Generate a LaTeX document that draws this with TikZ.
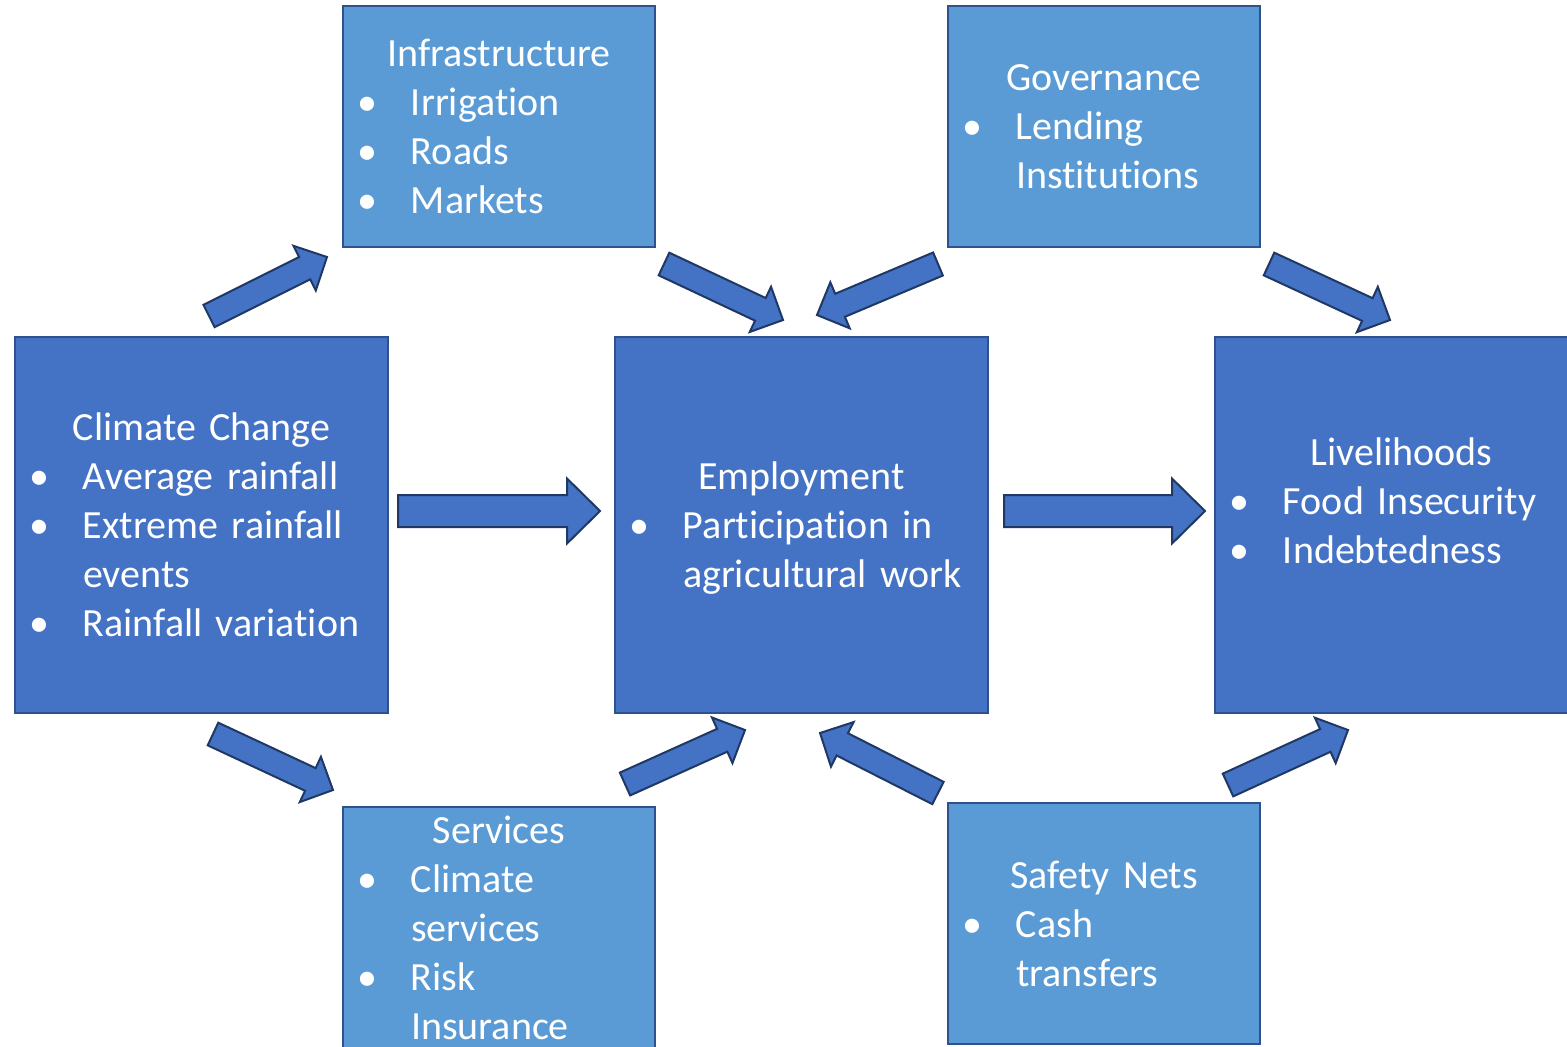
\documentclass[tikz,border=0pt]{standalone}
\usepackage{fontspec}
\setmainfont{Carlito}[Ligatures=NoCommon]
\usepackage{tikz}
\usetikzlibrary{positioning,calc}

\definecolor{boxdark}{HTML}{4472C4}
\definecolor{boxlight}{HTML}{5B9BD5}
\definecolor{boxline}{HTML}{2F528F}
\definecolor{arrline}{HTML}{1F3864}

\newcommand{\itm}{\makebox[24pt]{\textbullet}\hspace{10pt}}
\newcommand{\cont}{\hspace*{34pt}}
\newcommand{\ttl}[1]{\makebox[\hsize]{#1}}
\newcommand{\nodp}[1]{\raisebox{0pt}[\height][0pt]{#1}}

\newcommand{\barrow}[5]{%
	\path ($(#2)!#5!(#1)$) coordinate (hb);
	\draw[arrowshape] ($(#1)!#3!90:(#2)$) -- ($(hb)!#3!90:(#2)$) -- ($(hb)!#4!90:(#2)$) -- (#2)
		-- ($(hb)!#4!-90:(#2)$) -- ($(hb)!#3!-90:(#2)$) -- ($(#1)!#3!-90:(#2)$) -- cycle;}

\begin{document}
\begin{tikzpicture}[x=0.5pt,y=-0.5pt,
						bigbox/.style = {draw=boxline, line width=1pt, fill=boxdark, text=white,
							minimum height=188pt, text width=186.5pt, inner xsep=0pt, align=left,
							font=\fontsize{20pt}{24.5pt}\selectfont},
						smallbox/.style = {bigbox, fill=boxlight, minimum height=120.5pt, text width=156pt},
						arrowshape/.style = {fill=boxdark, draw=arrline, line width=1pt, line join=miter}]

					\useasboundingbox (0,0) rectangle (1567,1046);

					\node[bigbox] (clim) at (201.5,525) {\ttl{Climate Change}\\ \itm Average rainfall\\ \itm Extreme rainfall\\ \cont events\\ \itm Rainfall variation};
					\node[bigbox,right=112.5pt of clim] (empl) {\ttl{Employment}\\ \itm Participation in\\ \cont\nodp{agricultural work}};
					\node[bigbox,right=112.5pt of empl] (live) {\ttl{Livelihoods}\\ \itm Food Insecurity\\ \itm Indebtedness\\ ~};

					\node[smallbox] (infra) at (499,126.5) {\ttl{Infrastructure}\\ \itm Irrigation\\ \itm Roads\\ \itm Markets};
					\node[smallbox] (gov) at (1104,126.5) {\ttl{Governance}\\ \itm Lending\\ \cont Institutions};
					\node[smallbox] (serv) at (499,927.5) {\ttl{Services}\\ \itm Climate\\ \cont services\\ \itm Risk\\ \cont Insurance};
					\node[smallbox] (safe) at (1104,923.5) {\ttl{Safety Nets}\\ \itm Cash\\ \cont transfers};

					\coordinate (ci-s) at (209,316);  \coordinate (ci-t) at (327,257);
					\coordinate (ie-s) at (664,264);  \coordinate (ie-t) at (783,320);
					\coordinate (ge-s) at (938,264);  \coordinate (ge-t) at (817,315);
					\coordinate (gl-s) at (1269,264); \coordinate (gl-t) at (1390,320);
					\coordinate (cs-s) at (213,734);  \coordinate (cs-t) at (333,790);
					\coordinate (se-s) at (625,784);  \coordinate (se-t) at (745,730);
					\coordinate (ne-s) at (938,793);  \coordinate (ne-t) at (820,733);
					\coordinate (nl-s) at (1228,785); \coordinate (nl-t) at (1348,730);
					\coordinate (ce-s) at (398,511);  \coordinate (ce-t) at (600,511);
					\coordinate (el-s) at (1004,511); \coordinate (el-t) at (1205,511);

					\foreach \a in {ci,ie,ge,gl,cs,se,ne,nl}
						\barrow{\a-s}{\a-t}{6.25pt}{12.5pt}{12.5pt};
					\foreach \a in {ce,el}
						\barrow{\a-s}{\a-t}{8pt}{16.25pt}{16.5pt};

				\end{tikzpicture}
\end{document}
